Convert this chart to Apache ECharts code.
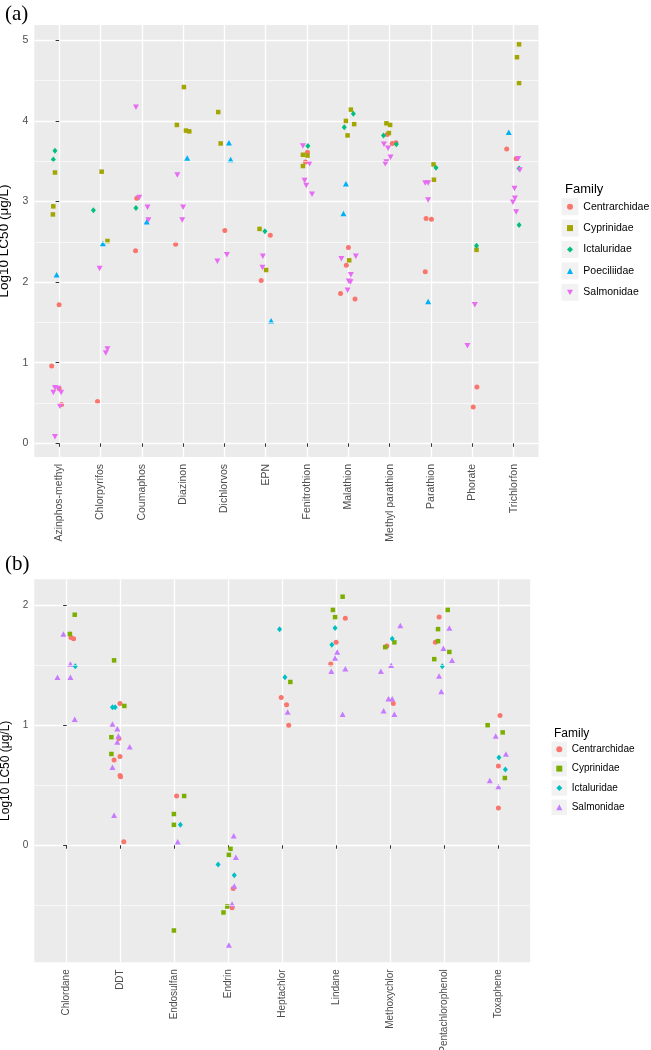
<!DOCTYPE html>
<html>
<head>
<meta charset="utf-8">
<script src="https://cdn.jsdelivr.net/npm/echarts@6/dist/echarts.min.js"></script>
<style>
html,body{margin:0;padding:0;background:#fff;}
#chart{width:651px;height:1050px;}
</style>
</head>
<body>
<div id="chart"></div>
<script>
// ---------- Panel (a) ----------
const categoriesA = ['Azinphos-methyl','Chlorpyrifos','Coumaphos','Diazinon','Dichlorvos','EPN','Fenitrothion','Malathion','Methyl parathion','Parathion','Phorate','Trichlorfon'];
const familiesA = ['Centrarchidae','Cyprinidae','Ictaluridae','Poeciliidae','Salmonidae'];
const colorsA = ['#F8766D','#A3A500','#00BF7D','#00B0F6','#E76BF3'];
const yTicksA = [0,1,2,3,4,5];
const yMinorA = [0.5,1.5,2.5,3.5,4.5];

// each point: [category index, horizontal jitter, log10 LC50]
const centrarchidaeA = [
  [0,0,1.72],[0,-0.18,0.96],[0,0.0,0.68],[0,0.06,0.48],
  [1,-0.07,0.52],
  [2,-0.12,3.04],[2,-0.15,2.39],
  [3,-0.18,2.47],
  [4,0.01,2.64],
  [5,0.11,2.58],[5,-0.11,2.02],
  [6,0.01,3.61],[6,-0.04,3.49],
  [7,0,2.43],[7,-0.05,2.21],[7,-0.19,1.86],[7,0.16,1.79],
  [8,-0.06,3.83],[8,0.06,3.72],[8,0.15,3.73],
  [9,-0.12,2.79],[9,0.01,2.78],[9,-0.14,2.13],
  [10,0.11,0.70],[10,0.02,0.45],
  [11,-0.17,3.65],[11,0.06,3.53]
];
const cyprinidaeA = [
  [0,-0.1,3.36],[0,-0.14,2.94],[0,-0.15,2.84],
  [1,0.03,3.37],[1,0.17,2.51],
  [3,0.02,4.42],[3,-0.15,3.95],[3,0.07,3.88],[3,0.15,3.87],
  [4,-0.15,4.11],[4,-0.09,3.72],
  [5,-0.15,2.66],[5,0.01,2.15],
  [6,-0.1,3.58],[6,0.01,3.57],[6,-0.1,3.44],
  [7,0.06,4.14],[7,-0.06,4.0],[7,0.14,3.96],[7,-0.02,3.82],[7,0.02,2.27],
  [8,-0.08,3.97],[8,0.01,3.95],[8,-0.02,3.85],
  [9,0.06,3.46],[9,0.07,3.27],
  [10,0.1,2.4],
  [11,0.13,4.95],[11,0.08,4.79],[11,0.13,4.47]
];
const ictaluridaeA = [
  [0,-0.1,3.63],[0,-0.14,3.52],
  [1,-0.17,2.89],
  [2,-0.14,2.92],
  [5,-0.02,2.63],
  [6,0.02,3.69],
  [7,0.12,4.09],[7,-0.1,3.92],
  [8,-0.15,3.82],[8,0.16,3.71],
  [9,0.12,3.42],
  [10,0.1,2.45],
  [11,0.13,3.41],[11,0.13,2.71]
];
const poeciliidaeA = [
  [0,-0.06,2.09],
  [1,0.06,2.48],
  [2,0.12,2.75],
  [3,0.1,3.54],
  [4,0.11,3.73],[4,0.15,3.52],
  [5,0.13,1.52],
  [7,-0.06,3.22],[7,-0.12,2.85],
  [9,-0.07,1.76],
  [11,-0.12,3.86]
];
const salmonidaeA = [
  [0,-0.1,0.69],[0,-0.02,0.68],[0,-0.14,0.63],[0,0.05,0.63],[0,0.02,0.46],[0,-0.1,0.08],
  [1,-0.02,2.17],[1,0.17,1.17],[1,0.13,1.12],
  [2,-0.14,4.17],[2,-0.06,3.05],[2,0.14,2.93],[2,0.16,2.77],
  [3,-0.14,3.33],[3,0,2.93],[3,-0.02,2.77],
  [4,-0.17,2.26],[4,0.06,2.34],
  [5,-0.07,2.32],[5,-0.08,2.18],
  [6,-0.1,3.69],[6,0.06,3.47],[6,-0.06,3.26],[6,-0.02,3.2],[6,0.12,3.09],
  [7,-0.17,2.29],[7,0.18,2.32],[7,0.06,2.09],[7,0.01,2.01],[7,0.05,2.0],[7,-0.02,1.9],
  [8,-0.14,3.71],[8,-0.04,3.66],[8,0.02,3.55],[8,-0.08,3.49],[8,-0.11,3.47],
  [9,-0.14,3.23],[9,-0.07,3.23],[9,-0.07,3.02],
  [10,0.06,1.72],[10,-0.12,1.21],
  [11,0.11,3.53],[11,0.15,3.39],[11,0.02,3.16],[11,0.03,3.04],[11,-0.02,2.99],[11,0.06,2.87]
];

// ---------- Panel (b) ----------
const categoriesB = ['Chlordane','DDT','Endosulfan','Endrin','Heptachlor','Lindane','Methoxychlor','Pentachlorophenol','Toxaphene'];
const familiesB = ['Centrarchidae','Cyprinidae','Ictaluridae','Salmonidae'];
const colorsB = ['#F8766D','#7CAE00','#00BFC4','#C77CFF'];
const yTicksB = [0,1,2];
const yMinorB = [-0.5,0.5,1.5];

const centrarchidaeB = [
  [0,0.08,1.73],[0,0.13,1.72],
  [1,-0.01,1.18],[1,-0.03,0.89],[1,-0.01,0.74],[1,-0.12,0.71],[1,-0.01,0.58],[1,0,0.57],[1,0.06,0.03],
  [2,0.04,0.41],
  [3,0.09,-0.36],[3,0.07,-0.52],
  [4,-0.02,1.23],[4,0.08,1.17],[4,0.12,1.0],
  [5,0.17,1.89],[5,0,1.69],[5,-0.1,1.51],
  [6,-0.06,1.66],[6,0.06,1.18],
  [7,-0.09,1.9],[7,-0.16,1.69],
  [8,0.04,1.08],[8,0.01,0.66],[8,0.01,0.31]
];
const cyprinidaeB = [
  [0,0.15,1.92],[0,0.06,1.76],
  [1,-0.12,1.54],[1,0.07,1.16],[1,-0.17,0.90],[1,-0.17,0.76],
  [2,0.18,0.41],[2,-0.01,0.26],[2,-0.01,0.17],[2,-0.01,-0.71],
  [3,0.04,-0.03],[3,0.01,-0.08],[3,-0.02,-0.51],[3,-0.09,-0.56],
  [4,0.15,1.36],
  [5,0.12,2.07],[5,-0.06,1.96],[5,-0.02,1.90],
  [6,0.08,1.69],[6,-0.09,1.65],
  [7,0.07,1.96],[7,-0.11,1.80],[7,-0.11,1.70],[7,0.1,1.61],[7,-0.18,1.55],
  [8,-0.19,1.0],[8,0.09,0.94],[8,0.13,0.56]
];
const ictaluridaeB = [
  [0,0.16,1.49],
  [1,-0.15,1.15],[1,-0.1,1.15],
  [2,0.11,0.17],
  [3,-0.19,-0.16],[3,0.11,-0.25],
  [4,-0.05,1.80],[4,0.05,1.40],
  [5,-0.02,1.81],[5,-0.08,1.67],
  [6,0.04,1.72],
  [7,-0.03,1.49],
  [8,0.02,0.73],[8,0.14,0.63]
];
const salmonidaeB = [
  [0,-0.06,1.76],[0,0.07,1.51],[0,-0.17,1.40],[0,0.07,1.40],[0,0.15,1.05],
  [1,-0.15,1.01],[1,-0.06,0.97],[1,-0.04,0.91],[1,-0.06,0.86],[1,0.17,0.82],[1,-0.15,0.65],[1,-0.12,0.25],
  [2,0.06,0.03],
  [3,0.1,0.08],[3,0.14,-0.10],[3,0.11,-0.34],[3,0.07,-0.49],[3,0.01,-0.83],
  [4,0.1,1.11],
  [5,0.02,1.61],[5,-0.02,1.56],[5,-0.09,1.45],[5,0.17,1.47],[5,0.12,1.09],
  [6,0.19,1.83],[6,0.02,1.50],[6,-0.17,1.45],[6,-0.03,1.22],[6,0.04,1.22],[6,-0.12,1.12],[6,0.08,1.09],
  [7,0.1,1.81],[7,-0.01,1.64],[7,0.15,1.54],[7,-0.09,1.41],[7,-0.05,1.28],
  [8,-0.04,0.91],[8,0.15,0.76],[8,-0.15,0.54],[8,0.01,0.49]
];

const dataA = [centrarchidaeA, cyprinidaeA, ictaluridaeA, poeciliidaeA, salmonidaeA];
const dataB = [centrarchidaeB, cyprinidaeB, ictaluridaeB, salmonidaeB];

const shapesA = [
  {symbol:'circle', size:5, rotate:0},
  {symbol:'rect', size:4.5, rotate:0},
  {symbol:'diamond', size:[5,6], rotate:0},
  {symbol:'triangle', size:[6,5.5], rotate:0},
  {symbol:'triangle', size:[6,5.5], rotate:180}
];
const shapesB = [
  {symbol:'circle', size:5, rotate:0},
  {symbol:'rect', size:4.5, rotate:0},
  {symbol:'diamond', size:[5,6], rotate:0},
  {symbol:'triangle', size:[6,5.5], rotate:0}
];
const DOWN = 'path://M0,0L10,0L5,8.66Z';
const legendIconsA = ['circle','rect','diamond','triangle',DOWN];
const legendIconsB = ['circle','rect','diamond','triangle'];

const FONT = 'Liberation Sans';
const GREY_TXT = '#4D4D4D';
const range = n => Array.from({length:n}, (_, i) => i);

function xAxisFor(gridIndex, cats, fs) {
  const idx = range(cats.length);
  return {
    type:'value', gridIndex, min:-0.6, max:cats.length - 1 + 0.6,
    axisLine:{show:false},
    axisTick:{show:true, customValues:idx, length:3.5, lineStyle:{color:'#333', width:1}},
    axisLabel:{show:true, customValues:idx, rotate:90, margin:7, fontSize:fs, fontFamily:FONT, color:GREY_TXT,
      formatter: v => cats[Math.round(v)] || ''},
    splitLine:{show:true, lineStyle:{color:'#FFFFFF', width:1.3}}
  };
}
function yAxisFor(gridIndex, min, max, ticks, fs, nfs, gap) {
  return {
    type:'value', gridIndex, min, max,
    name:'Log10 LC50 (μg/L)', nameLocation:'middle', nameGap:gap,
    nameTextStyle:{fontFamily:FONT, fontSize:nfs, color:'#000'},
    axisLine:{show:false},
    axisTick:{show:true, customValues:ticks, length:3.5, lineStyle:{color:'#333', width:1}},
    axisLabel:{show:true, customValues:ticks, margin:6, fontSize:fs, fontFamily:FONT, color:GREY_TXT},
    splitLine:{show:true, lineStyle:{color:'#FFFFFF', width:1.3}}
  };
}

const series = [];
// minor grid lines (background)
[[0, yMinorA], [1, yMinorB]].forEach(([g, minors]) => {
  series.push({
    type:'scatter', xAxisIndex:g, yAxisIndex:g, data:[], z:1, silent:true,
    markLine:{silent:true, symbol:'none', animation:false, label:{show:false},
      lineStyle:{color:'#FFFFFF', width:0.6, type:'solid'},
      emphasis:{disabled:true},
      data: minors.map(v => ({yAxis:v}))}
  });
});
familiesA.forEach((f, i) => {
  series.push({
    name:f, type:'scatter', xAxisIndex:0, yAxisIndex:0, z:3,
    symbol:shapesA[i].symbol, symbolSize:shapesA[i].size, symbolRotate:shapesA[i].rotate,
    itemStyle:{color:colorsA[i], opacity:1},
    emphasis:{disabled:true},
    data: dataA[i].map(p => [p[0] + p[1], p[2]])
  });
});
familiesB.forEach((f, i) => {
  series.push({
    name:f + ' ', type:'scatter', xAxisIndex:1, yAxisIndex:1, z:3,
    symbol:shapesB[i].symbol, symbolSize:shapesB[i].size, symbolRotate:shapesB[i].rotate,
    itemStyle:{color:colorsB[i], opacity:1},
    emphasis:{disabled:true},
    data: dataB[i].map(p => [p[0] + p[1], p[2]])
  });
});

// legend key backgrounds (ggplot style light grey boxes)
const keyBoxes = [];
familiesA.forEach((f, i) => keyBoxes.push({type:'rect', z:-1, silent:true,
  shape:{x:561.5, y:198.2 + 21.4 * i, width:17, height:17}, style:{fill:'#F2F2F2'}}));
familiesB.forEach((f, i) => keyBoxes.push({type:'rect', z:-1, silent:true,
  shape:{x:551.5, y:741.6 + 19.33 * i, width:15.5, height:15.5}, style:{fill:'#F2F2F2'}}));

const chart = echarts.init(document.getElementById('chart'), null, {renderer:'canvas', width:651, height:1050});
chart.setOption({
  animation:false,
  backgroundColor:'#FFFFFF',
  textStyle:{fontFamily:FONT},
  title:[
    {text:'(a)', left:0, top:-1, textStyle:{fontFamily:'Liberation Serif', fontSize:21, fontWeight:'normal', color:'#000'}},
    {text:'(b)', left:0, top:549, textStyle:{fontFamily:'Liberation Serif', fontSize:21, fontWeight:'normal', color:'#000'}},
    {text:'Family', left:560, top:178, textStyle:{fontFamily:FONT, fontSize:13, fontWeight:'normal', color:'#000'}},
    {text:'Family', left:549, top:723, textStyle:{fontFamily:FONT, fontSize:12, fontWeight:'normal', color:'#000'}}
  ],
  graphic: keyBoxes,
  grid:[
    {left:34.3, top:25, width:504.2, height:432, show:true, backgroundColor:'#EBEBEB', borderWidth:0, outerBoundsMode:'none'},
    {left:34.3, top:579.3, width:495.9, height:383, show:true, backgroundColor:'#EBEBEB', borderWidth:0, outerBoundsMode:'none'}
  ],
  xAxis:[ xAxisFor(0, categoriesA, 10.5), xAxisFor(1, categoriesB, 10) ],
  yAxis:[ yAxisFor(0, -0.17, 5.19, yTicksA, 10.5, 13.5, 21), yAxisFor(1, -0.975, 2.215, yTicksB, 10, 12, 21) ],
  legend:[
    {orient:'vertical', left:567, top:199.7, padding:0, itemWidth:6, itemHeight:6, itemGap:7.4,
     selectedMode:false,
     textStyle:{fontFamily:FONT, fontSize:10.5, color:'#000', lineHeight:14, padding:[0,0,0,5.3]},
     data: familiesA.map((f, i) => ({name:f, icon:legendIconsA[i], itemStyle:{color:colorsA[i]}}))},
    {orient:'vertical', left:556.3, top:742.8, padding:0, itemWidth:6, itemHeight:6, itemGap:6.33,
     selectedMode:false,
     textStyle:{fontFamily:FONT, fontSize:10, color:'#000', lineHeight:13, padding:[0,0,0,4.4]},
     formatter: n => n.trim(),
     data: familiesB.map((f, i) => ({name:f + ' ', icon:legendIconsB[i], itemStyle:{color:colorsB[i]}}))}
  ],
  series
});
</script>
</body>
</html>
